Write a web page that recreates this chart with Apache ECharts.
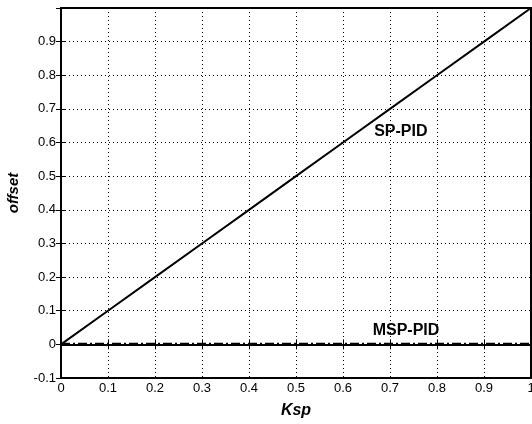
<!DOCTYPE html>
<html>
<head>
<meta charset="utf-8">
<script src="https://cdn.jsdelivr.net/npm/echarts@6/dist/echarts.min.js"></script>
<style>html,body{margin:0;padding:0;background:#fff}#c{width:532px;height:424px}</style>
</head>
<body>
<div id="c"></div>
<script>
const ksp = [0, 0.1, 0.2, 0.3, 0.4, 0.5, 0.6, 0.7, 0.8, 0.9, 1.0];
const spPid = [0, 0.1, 0.2, 0.3, 0.4, 0.5, 0.6, 0.7, 0.8, 0.9, 1.0];
const mspPid = [0, 0, 0, 0, 0, 0, 0, 0, 0, 0, 0];
const spLabelAt = [0.723, 0.633];
const mspLabelAt = [0.734, 0.04];

const chart = echarts.init(document.getElementById('c'), null, {renderer: 'canvas'});
const font = 'Liberation Sans, Arial, Helvetica, sans-serif';
const fmt = v => (Math.abs(v) < 1e-9 ? '0' : String(+v.toFixed(1)));
chart.setOption({
  animation: false,
  backgroundColor: '#fff',
  grid: {left: 61, right: 1, top: 8, bottom: 46, outerBoundsMode: 'none', containLabel: false,
         show: true, borderColor: '#000', borderWidth: 2, backgroundColor: 'transparent'},
  xAxis: [{
    type: 'value', min: 0, max: 1, interval: 0.1, position: 'bottom',
    name: 'Ksp', nameLocation: 'middle', nameGap: 25,
    nameTextStyle: {fontFamily: font, fontSize: 16, fontWeight: 'bold', fontStyle: 'italic', color: '#000'},
    axisLine: {show: true, lineStyle: {color: '#000', width: 2}},
    axisTick: {show: true, inside: true, length: 5, lineStyle: {color: '#000', width: 1}},
    axisLabel: {fontFamily: font, fontSize: 13, color: '#000', margin: 4, formatter: fmt, hideOverlap: false},
    splitLine: {show: true, lineStyle: {color: '#000', width: 1, type: [1, 3]}}
  }, {
    type: 'value', min: 0, max: 1, interval: 0.1, position: 'top',
    axisLine: {show: true, lineStyle: {color: '#000', width: 2}},
    axisTick: {show: true, inside: true, length: 5, lineStyle: {color: '#000', width: 1}},
    axisLabel: {show: false}, splitLine: {show: false}
  }],
  yAxis: [{
    type: 'value', min: -0.1, max: 1.0, interval: 0.1, position: 'left',
    name: 'offset', nameLocation: 'middle', nameGap: 40, nameRotate: 90,
    nameTextStyle: {fontFamily: font, fontSize: 15, fontWeight: 'bold', fontStyle: 'italic', color: '#000'},
    axisLine: {show: true, lineStyle: {color: '#000', width: 2}},
    axisTick: {show: true, inside: true, length: 5, lineStyle: {color: '#000', width: 1}},
    axisLabel: {fontFamily: font, fontSize: 13, color: '#000', margin: 5, showMaxLabel: false, formatter: fmt},
    splitLine: {show: true, lineStyle: {color: '#000', width: 1, type: [1, 3]}}
  }, {
    type: 'value', min: -0.1, max: 1.0, interval: 0.1, position: 'right',
    axisLine: {show: true, lineStyle: {color: '#000', width: 2}},
    axisTick: {show: true, inside: true, length: 5, lineStyle: {color: '#000', width: 1}},
    axisLabel: {show: false}, splitLine: {show: false}
  }],
  series: [{
    name: 'SP-PID', type: 'line', showSymbol: false, symbol: 'none',
    data: ksp.map((x, i) => [x, spPid[i]]),
    lineStyle: {color: '#000', width: 2},
    markPoint: {
      symbol: 'circle', symbolSize: 0,
      label: {show: true, formatter: 'SP-PID', fontFamily: font, fontSize: 16, fontWeight: 'bold', color: '#000', position: 'inside'},
      data: [{coord: spLabelAt}]
    }
  }, {
    name: 'MSP-PID', type: 'line', showSymbol: false, symbol: 'none',
    data: ksp.map((x, i) => [x, mspPid[i]]),
    lineStyle: {color: '#000', width: 3, type: [9, 3, 2, 3]},
    markPoint: {
      symbol: 'circle', symbolSize: 0,
      label: {show: true, formatter: 'MSP-PID', fontFamily: font, fontSize: 16, fontWeight: 'bold', color: '#000', position: 'inside'},
      data: [{coord: mspLabelAt}]
    }
  }]
});
</script>
</body>
</html>
